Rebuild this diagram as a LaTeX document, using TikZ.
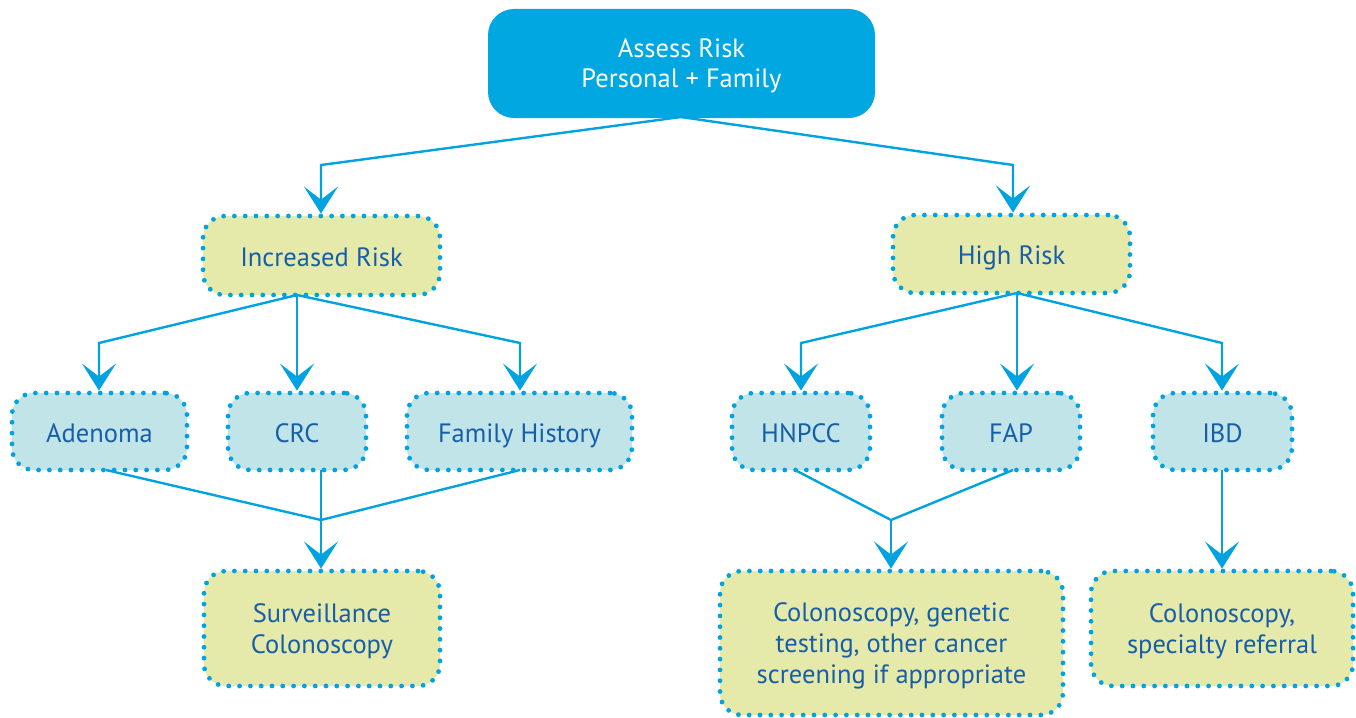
\documentclass[tikz,border=0pt]{standalone}
\usepackage{fontspec}
\setmainfont{PT Sans}
\usetikzlibrary{arrows.meta,calc}
\definecolor{cyanmain}{HTML}{00A7E1}
\definecolor{linecol}{HTML}{00A3E0}
\definecolor{yellowfill}{HTML}{E5EAAA}
\definecolor{bluefill}{HTML}{C0E4E8}
\definecolor{textblue}{HTML}{175EA8}
\tikzset{
  topbox/.style={fill=cyanmain, rounded corners=26pt, text=white, align=center,
    font=\fontsize{26.5}{30}\selectfont, inner sep=0pt, text depth=1pt},
  dotbox/.style={draw=linecol, line width=4.8pt, line cap=round,
    dash pattern=on 0pt off 10.8pt, rounded corners=22pt, text=textblue,
    align=center, font=\fontsize{26.5}{31}\selectfont, inner sep=0pt},
  riskbox/.style={dotbox, fill=yellowfill},
  condbox/.style={dotbox, fill=bluefill},
  oneline/.style={text height=22pt, text depth=1pt},
  multiline/.style={text depth=0pt},
  conn/.style={draw=linecol, line width=2.4pt},
  arr/.style={conn, -{Stealth[length=27pt,width=34pt,inset=13pt]}},
}
\begin{document}
\begin{tikzpicture}[x=1pt,y=-1pt]
\useasboundingbox (0,0) rectangle (1356,717);
% nodes
\node[topbox, minimum width=387pt, minimum height=109pt] (top) at (681.5,63.5) {Assess Risk\\Personal + Family};
\node[riskbox, oneline, minimum width=237pt, minimum height=79pt] (ir) at (321.5,255.5) {Increased Risk};
\node[riskbox, oneline, minimum width=237pt, minimum height=78pt] (hr) at (1011.5,254) {High Risk};
\node[condbox, oneline, minimum width=175pt, minimum height=77pt] (ad) at (99.5,431.5) {Adenoma};
\node[condbox, oneline, minimum width=138pt, minimum height=77pt] (crc) at (297,431.5) {CRC};
\node[condbox, oneline, minimum width=225pt, minimum height=77pt] (fh) at (519.5,431.5) {Family History};
\node[condbox, oneline, minimum width=138pt, minimum height=77pt] (hn) at (801,431.5) {HNPCC};
\node[condbox, oneline, minimum width=138pt, minimum height=77pt] (fap) at (1011,431.5) {FAP};
\node[condbox, oneline, minimum width=139pt, minimum height=77pt] (ibd) at (1222.5,431.5) {IBD};
\node[riskbox, multiline, minimum width=236pt, minimum height=115pt] (sc) at (322,628.5) {Surveillance\\Colonoscopy};
\node[riskbox, multiline, minimum width=343pt, minimum height=144pt] (cg) at (891.5,643) {Colonoscopy, genetic\\testing, other cancer\\screening if appropriate};
\node[riskbox, multiline, minimum width=262pt, minimum height=115pt] (cs) at (1222,628.5) {Colonoscopy,\\specialty referral};
% coordinates
\coordinate (jt) at (681,117);
\coordinate (e1) at (321,165);
\coordinate (e2) at (1013,165);
\coordinate (j1) at (297,295);
\coordinate (e3) at (99,343);
\coordinate (e4) at (520,343);
\coordinate (j2) at (1017,293);
\coordinate (e5) at (801,343);
\coordinate (e6) at (1222,343);
\coordinate (s1) at (106,470);
\coordinate (s2) at (321,470);
\coordinate (s3) at (520,470);
\coordinate (m1) at (321,520);
\coordinate (s4) at (795,470);
\coordinate (s5) at (1013,470);
\coordinate (m2) at (891,520);
\coordinate (s6) at (1222,470);
% connectors
\draw[arr] (jt) -- (e1) -- (e1 |- ir.north);
\draw[arr] (jt) -- (e2) -- (e2 |- hr.north);
\draw[arr] (j1) -- (e3) -- (e3 |- ad.north);
\draw[arr] (j1) -- (j1 |- crc.north);
\draw[arr] (j1) -- (e4) -- (e4 |- fh.north);
\draw[arr] (j2) -- (e5) -- (e5 |- hn.north);
\draw[arr] (j2) -- (j2 |- fap.north);
\draw[arr] (j2) -- (e6) -- (e6 |- ibd.north);
\draw[conn] (s1) -- (m1) -- (s3);
\draw[conn] (s2) -- (m1);
\draw[arr] (m1) -- (m1 |- sc.north);
\draw[conn] (s4) -- (m2) -- (s5);
\draw[arr] (m2) -- (m2 |- cg.north);
\draw[arr] (s6) -- (s6 |- cs.north);
\end{tikzpicture}
\end{document}
